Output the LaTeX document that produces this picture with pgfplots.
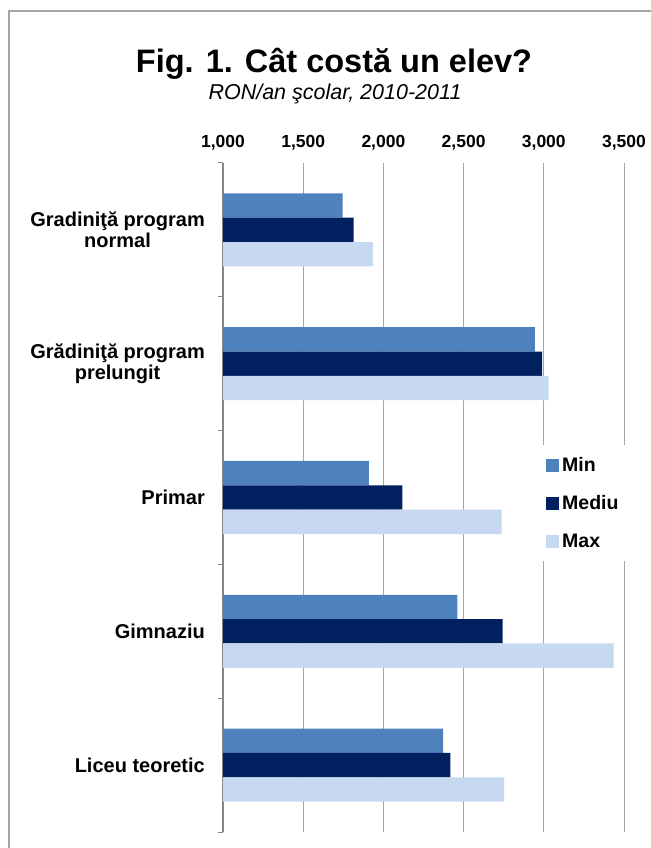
\documentclass[border=0pt]{standalone}
\usepackage{fontspec}
\setmainfont{Liberation Sans}
\usepackage{pgfplots}
\pgfplotsset{compat=1.18}

\definecolor{cmin}{HTML}{4F81BD}
\definecolor{cmed}{HTML}{002060}
\definecolor{cmax}{HTML}{C6D9F1}
\definecolor{gridc}{HTML}{A6A6A6}
\definecolor{axisc}{HTML}{868686}

\begin{document}
\begin{tikzpicture}[x=1bp,y=1bp]
\path[use as bounding box, fill=white] (0,0) rectangle (651,848);
% outer frame (left and top edges visible)
\draw[gridc, line width=1.2bp] (9,0) -- (9,837) -- (651,837);

\node[font=\fontsize{32.5bp}{38bp}\selectfont\bfseries, anchor=base] at (334,775) {Fig. 1. Cât costă un elev?};
\node[font=\fontsize{21.5bp}{24bp}\selectfont\itshape, anchor=base] at (335,748) {RON/an şcolar, 2010-2011};

\begin{axis}[
    at={(223bp,16bp)}, anchor=south west,
    scale only axis,
    width=401bp, height=669bp,
    xbar, bar width=0.182,
    xmin=1000, xmax=3500,
    ymin=-0.5, ymax=4.5,
    y dir=reverse,
    axis x line*=top, axis y line*=left,
    x axis line style={draw=none},
    y axis line style={draw=axisc, line width=1.2bp},
    xtick={1000,1500,2000,2500,3000,3500},
    scaled x ticks=false,
    xticklabel={\pgfmathprintnumber[fixed, 1000 sep={,}, assume math mode=true]{\tick}},
    xticklabel style={font=\fontsize{17.5bp}{20bp}\selectfont\bfseries, anchor=base, yshift=15bp},
    xmajorgrids,
    grid style={gridc, line width=1bp},
    ytick={0,1,2,3,4},
    yticklabels={{Gradiniţă program\\normal}, {Grădiniţă program\\prelungit}, Primar, Gimnaziu, Liceu teoretic},
    yticklabel style={align=center, font=\fontsize{20bp}{21.5bp}\selectfont\bfseries, anchor=east, inner sep=0pt, xshift=-18bp},
    minor ytick={-0.5,0.5,1.5,2.5,3.5,4.5},
    major tick length=0pt,
    minor tick length=5bp,
    tick align=outside,
    minor tick style={axisc, line width=1bp},
    legend image code/.code={\fill[#1] (0bp,-6.5bp) rectangle (13bp,6.5bp);},
    legend cell align=left,
    legend style={
        at={(axis cs:2964,1.608)}, anchor=north west,
        draw=none, fill=white,
        font=\fontsize{19.5bp}{22bp}\selectfont\bfseries,
        inner xsep=8bp, inner ysep=10bp,
        row sep=18bp,
        nodes={inner sep=3bp, text height=13bp, text depth=1bp},
    },
]
\addplot[fill=cmin, draw=none, bar shift=-0.182] coordinates {
    (1746,0) (2945,1) (1910,2) (2461,3) (2373,4)
};
\addplot[fill=cmed, draw=none, bar shift=0] coordinates {
    (1815,0) (2989,1) (2118,2) (2744,3) (2417,4)
};
\addplot[fill=cmax, draw=none, bar shift=0.182] coordinates {
    (1935,0) (3030,1) (2737,2) (3436,3) (2752,4)
};
\legend{Min, Mediu, Max}
\end{axis}
\end{tikzpicture}
\end{document}
